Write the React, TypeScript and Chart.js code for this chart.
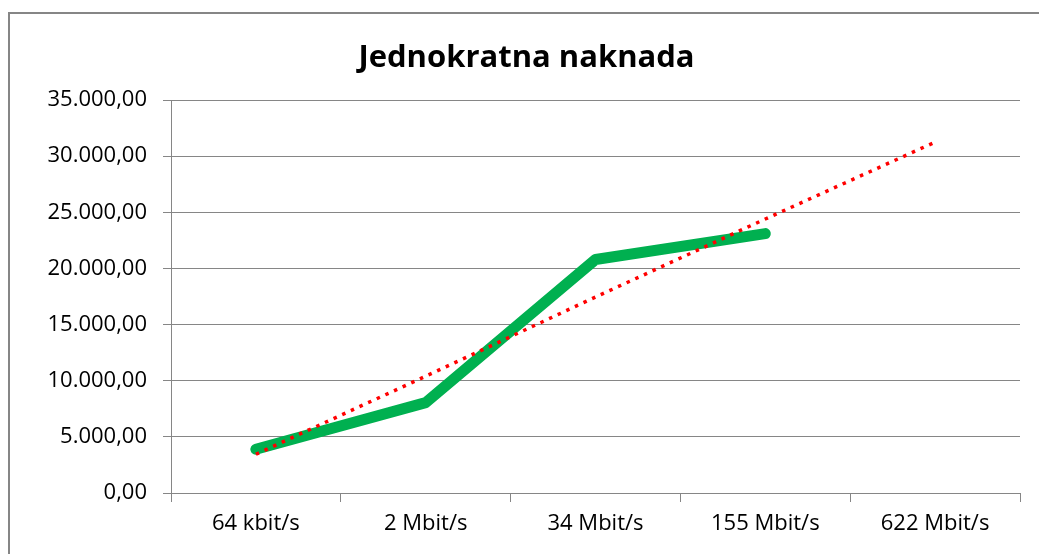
import React, { useEffect, useRef } from "react";
import { Chart, registerables } from "chart.js";

Chart.register(...registerables);

const categories = ["64 kbit/s", "2 Mbit/s", "34 Mbit/s", "155 Mbit/s", "622 Mbit/s"];
const naknada = [3900, 8050, 20800, 23100, null];
const trend = [3450, 10400, 17450, 24400, 31250];
const yTicks = [0, 5000, 10000, 15000, 20000, 25000, 30000, 35000];

const fmt = (v: number) => {
  const s = Math.round(v).toString().replace(/\B(?=(\d{3})+(?!\d))/g, ".");
  return s + ",00";
};

const GRID = "#868686";
const FONT = "'Open Sans', 'Liberation Sans', sans-serif";

export default function App() {
  const ref = useRef<HTMLCanvasElement>(null);
  useEffect(() => {
    if (!ref.current) return;
    const chart = new Chart(ref.current, {
      type: "line",
      data: {
        labels: categories,
        datasets: [
          {
            label: "Trend",
            data: trend,
            borderColor: "#ff0000",
            borderWidth: 3.5,
            borderDash: [3.5, 6],
            pointRadius: 0,
            fill: false,
            order: 0,
          },
          {
            label: "Jednokratna naknada",
            data: naknada,
            borderColor: "#00b050",
            borderWidth: 11,
            borderCapStyle: "round",
            borderJoinStyle: "round",
            pointRadius: 0,
            fill: false,
            order: 1,
          },
        ],
      },
      options: {
        animation: false,
        responsive: false,
        layout: { padding: { left: 33, right: 19, top: 0, bottom: 0 } },
        plugins: {
          legend: { display: false },
          tooltip: { enabled: false },
          title: {
            display: true,
            text: "Jednokratna naknada",
            color: "#000",
            font: { family: FONT, size: 31, weight: "bold", lineHeight: 1.2 },
            padding: { top: 40, bottom: 22.8 },
          },
        },
        scales: {
          x: {
            offset: true,
            grid: {
              offset: true,
              drawOnChartArea: false,
              drawTicks: true,
              tickLength: 9,
              color: GRID,
            },
            border: { display: true, color: GRID, width: 1 },
            ticks: {
              color: "#000",
              font: { family: FONT, size: 22 },
              padding: 9,
              maxRotation: 0,
              autoSkip: false,
            },
            afterFit: (s: any) => {
              s.height = 61;
            },
          },
          y: {
            min: 0,
            max: 35000,
            afterBuildTicks: (s: any) => {
              s.ticks = yTicks.map((v) => ({ value: v }));
            },
            grid: { color: GRID, tickLength: 8, lineWidth: 1 },
            border: { display: true, color: GRID, width: 1 },
            ticks: {
              color: "#000",
              font: { family: FONT, size: 22 },
              padding: 16,
              callback: (v: any) => fmt(Number(v)),
            },
            afterFit: (s: any) => {
              s.width = 138;
            },
          },
        },
      },
    });
    return () => chart.destroy();
  }, []);
  return (
    <div style={{ position: "fixed", left: 0, top: 0, width: 1039, height: 554, background: "#fff", overflow: "hidden" }}>
      <div
        style={{
          position: "absolute",
          left: 8,
          top: 12,
          width: 1100,
          height: 600,
          borderLeft: `2.5px solid ${GRID}`,
          borderTop: `2.5px solid ${GRID}`,
          boxSizing: "border-box",
        }}
      />
      <canvas ref={ref} width={1039} height={554} style={{ position: "absolute", left: 0, top: 0 }} />
    </div>
  );
}
